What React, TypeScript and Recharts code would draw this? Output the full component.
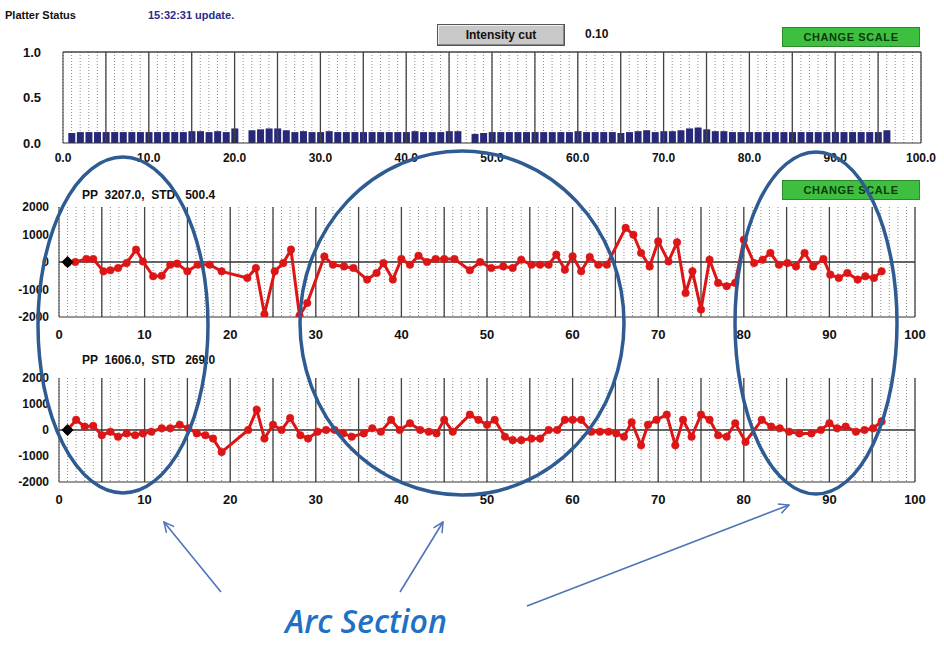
import React from 'react';
import {
  ComposedChart,
  BarChart,
  Bar,
  Line,
  Scatter,
  XAxis,
  YAxis,
  CartesianGrid,
  ReferenceLine,
} from 'recharts';

// ---- data ----
const intensityX = [
  1, 2, 3, 4, 5, 6, 7, 8, 9, 10, 11, 12, 13, 14, 15, 16, 17, 18, 19, 20,
  22, 23, 24, 25, 26, 27, 28, 29, 30, 31, 32, 33, 34, 35, 36, 37, 38, 39, 40, 41, 42, 43, 44, 45, 46,
  48, 49, 50, 51, 52, 53, 54, 55, 56, 57, 58, 59, 60, 61, 62, 63, 64, 65, 66, 67, 68, 69, 70, 71, 72,
  73, 74, 75, 76, 77, 78, 79, 80, 81, 82, 83, 84, 85, 86, 87, 88, 89, 90, 91, 92, 93, 94, 95, 96,
];
const intensityVal = [
  0.11, 0.12, 0.12, 0.12, 0.12, 0.12, 0.12, 0.12, 0.12, 0.12, 0.12, 0.12, 0.12, 0.12, 0.13, 0.13, 0.12, 0.13, 0.12, 0.16,
  0.14, 0.15, 0.16, 0.16, 0.14, 0.12, 0.13, 0.12, 0.12, 0.13, 0.12, 0.12, 0.12, 0.12, 0.12, 0.12, 0.12, 0.12, 0.12, 0.13, 0.12, 0.12, 0.12, 0.13, 0.13,
  0.10, 0.11, 0.12, 0.12, 0.12, 0.12, 0.12, 0.12, 0.12, 0.12, 0.12, 0.12, 0.13, 0.12, 0.12, 0.12, 0.12, 0.11, 0.12, 0.13, 0.14, 0.12, 0.13, 0.13, 0.14,
  0.16, 0.17, 0.15, 0.13, 0.13, 0.12, 0.12, 0.12, 0.12, 0.12, 0.12, 0.12, 0.12, 0.12, 0.12, 0.12, 0.12, 0.12, 0.12, 0.12, 0.12, 0.12, 0.12, 0.14,
];

const upperX = [
  1, 1.9, 3.2, 4, 5.2, 6, 6.9, 7.9, 9, 9.8, 11, 12, 13, 13.8, 15, 16.2, 17.6, 19, 22, 23, 24, 25.2, 26.2, 27.1,
  28.1, 29, 31, 32, 33.3, 34.4, 36, 37.1, 37.9, 39, 40, 41, 42, 43, 44, 45, 46.2, 48, 49.2, 50.5, 51.9, 53,
  54, 55.2, 56.2, 57.2, 58.1, 59.1, 60, 61, 62, 63, 64, 66.2, 67.1, 68, 69, 70, 71.2, 72.2, 73.2, 74, 75,
  76, 77, 78, 79, 80, 81.2, 82.2, 83.1, 84.1, 85.1, 86.1, 87.1, 88.1, 89.3, 90.1, 91.1, 92.1, 93.3, 94.2, 95.2, 96.1,
];
const upperVal = [
  -30, 0, 110, 110, -340, -300, -220, -40, 450, 20, -520, -500, -100, -60, -340, -100, -100, -340, -580, -220, -1900, -340, -40, 450,
  -1950, -1490, 200, -100, -160, -220, -640, -400, -40, -640, 110, -100, 230, 0, 110, 110, 110, -300, 0, -220, -160, -220,
  80, -100, -100, -100, 270, -280, 210, -340, 180, -100, -100, 1240, 990, 330, -160, 750, 20, 715, -1130, -340, -1730,
  80, -760, -880, -760, 810, -40, 80, 330, -100, -40, -160, 330, -160, 110, -460, -580, -400, -640, -520, -580, -340,
];

const lowerX = [
  1, 2, 3, 4, 5, 6, 6.9, 7.9, 8.9, 9.8, 10.8, 12, 13, 14.1, 15.1, 16.1, 17.1, 18, 19, 22.1, 23.1, 24, 25, 26, 27,
  28.2, 29.1, 30.2, 31.2, 32.2, 33.2, 34.2, 35.6, 36.6, 37.6, 38.8, 39.8, 41, 42.2, 43.2, 44.1, 45, 46, 48, 49,
  50, 50.9, 52.1, 53, 54, 55.2, 56.2, 57.2, 58.2, 59.1, 60, 61, 62.2, 63.2, 64.2, 65.1, 66, 66.9, 68, 68.8,
  69.8, 71, 72, 72.9, 73.9, 75, 76, 77, 78, 79, 80.2, 82.1, 83.2, 84.2, 85.3, 86.5, 87.9, 89, 90, 90.9, 91.9,
  93.1, 94.1, 95.1, 96.1,
];
const lowerVal = [
  0, 390, 130, 160, -200, -65, -260, -130, -200, -130, -65, 65, 65, 200, 65, -130, -200, -330, -850, 0, 780, -330, 200, 0, 460,
  -200, -330, -65, 0, 0, -130, -260, -130, 65, -65, 390, 0, 260, 0, -65, -130, 390, -65, 590, 390,
  200, 390, -260, -390, -390, -330, -330, 0, 0, 390, 390, 390, -65, -65, -65, -130, -260, 300, -590, 200,
  390, 590, -590, 390, -260, 590, 390, -200, -260, 260, -460, 390, 130, 65, -65, -130, -130, 0, 260, 65, 130,
  -65, 0, 65, 330,
];

const startPoint = [{ x: 1, y: 0 }];

const unitTicks = Array.from({ length: 101 }, (_, i) => i);
const majorLines = [5, 10, 15, 20, 25, 30, 35, 40, 45, 50, 55, 60, 65, 70, 75, 80, 85, 90, 95, 100];
const intensityTicks = [0, 0.5, 1];
const ppTicks = [-2000, -1000, 0, 1000, 2000];

const intensityData = intensityX.map((x, i) => ({ x, v: intensityVal[i] }));
const upperData = upperX.map((x, i) => ({ x, y: upperVal[i] }));
const lowerData = lowerX.map((x, i) => ({ x, y: lowerVal[i] }));

const FONT = '"Liberation Sans", Arial, sans-serif';
const RED = '#dc1616';
const ELLIPSE = '#2f5b93';

const tickStyle = { fill: '#111', fontSize: 13, fontWeight: 700, fontFamily: FONT };

const Diamond = (props: any) => {
  const { cx, cy } = props;
  return <path d={`M${cx},${cy - 6} L${cx + 6},${cy} L${cx},${cy + 6} L${cx - 6},${cy} Z`} fill="#000" />;
};

function PPChart({ data, top, height, plotH }: { data: any[]; top: number; height: number; plotH: number }) {
  return (
    <div style={{ position: 'absolute', left: 0, top }}>
      <ComposedChart
        width={944}
        height={height}
        data={data}
        margin={{ top: 12, right: 29, left: 0, bottom: 0 }}
      >
        <CartesianGrid horizontal={false} stroke="#8c8c8c" strokeDasharray="1 2" />
        <XAxis
          dataKey="x"
          type="number"
          domain={[0, 100]}
          ticks={unitTicks}
          interval={0}
          tickLine={false}
          tickMargin={7}
          height={height - 12 - plotH}
          stroke="#333"
          tick={tickStyle}
          tickFormatter={(v: number) => (v % 10 === 0 ? String(v) : '')}
        />
        <YAxis
          type="number"
          domain={[-2000, 2000]}
          ticks={ppTicks}
          width={59}
          stroke="#333"
          tickLine={false}
          tickMargin={4}
          allowDataOverflow
          tick={{ ...tickStyle, fontSize: 12 }}
        />
        {majorLines.map((x) => (
          <ReferenceLine key={x} x={x} stroke="#444" strokeWidth={1.3} />
        ))}
        <ReferenceLine y={0} stroke="#333" strokeWidth={1.3} />
        <Line
          dataKey="y"
          stroke={RED}
          strokeWidth={3}
          dot={{ r: 3.8, fill: RED, stroke: RED, strokeWidth: 0.5 }}
          isAnimationActive={false}
        />
        <Scatter data={startPoint} dataKey="y" shape={Diamond} isAnimationActive={false} />
      </ComposedChart>
    </div>
  );
}

const btnGreen: React.CSSProperties = {
  position: 'absolute',
  left: 782,
  width: 136,
  height: 18,
  background: '#3fbf3f',
  border: '1px solid #2b8a2b',
  color: '#0b3a0b',
  fontSize: 11,
  fontWeight: 700,
  lineHeight: '18px',
  textAlign: 'center',
  letterSpacing: 0.6,
};

export default function App() {
  return (
    <div
      style={{
        position: 'absolute',
        left: 0,
        top: 0,
        width: 944,
        height: 646,
        background: '#fff',
        fontFamily: FONT,
        overflow: 'hidden',
      }}
    >
      <div style={{ position: 'absolute', left: 5, top: 9, fontSize: 11, fontWeight: 700, color: '#111' }}>
        Platter Status
      </div>
      <div style={{ position: 'absolute', left: 148, top: 9, fontSize: 11, fontWeight: 700, color: '#2b2b8c' }}>
        15:32:31 update.
      </div>
      <div
        style={{
          position: 'absolute',
          left: 437,
          top: 24,
          width: 126,
          height: 20,
          background: '#c8c8c8',
          border: '1px solid #555',
          boxShadow: 'inset -1px -1px 0 #888, inset 1px 1px 0 #eee',
          fontSize: 12,
          fontWeight: 700,
          lineHeight: '20px',
          textAlign: 'center',
          color: '#111',
        }}
      >
        Intensity cut
      </div>
      <div style={{ position: 'absolute', left: 585, top: 27, fontSize: 12, fontWeight: 700, color: '#111' }}>0.10</div>
      <div style={{ ...btnGreen, top: 27 }}>CHANGE SCALE</div>
      <div style={{ ...btnGreen, top: 180 }}>CHANGE SCALE</div>

      <div style={{ position: 'absolute', left: 0, top: 40 }}>
        <BarChart
          width={944}
          height={130}
          data={intensityData}
          margin={{ top: 12, right: 23, left: 0, bottom: 0 }}
          barSize={7}
        >
          <CartesianGrid horizontal={false} stroke="#8c8c8c" strokeDasharray="1 2" />
          <XAxis
            dataKey="x"
            type="number"
            domain={[0, 100]}
            ticks={unitTicks}
            interval={0}
            tickLine={false}
            tickMargin={4}
            height={27}
            stroke="#333"
            tick={{ ...tickStyle, fontSize: 12 }}
            tickFormatter={(v: number) => (v % 10 === 0 ? v.toFixed(1) : '')}
          />
          <YAxis
            type="number"
            domain={[0, 1]}
            ticks={intensityTicks}
            width={63}
            stroke="#333"
            tickLine={false}
            tickMargin={16}
            tick={{ ...tickStyle, fontSize: 13 }}
            tickFormatter={(v: number) => v.toFixed(1)}
          />
          {majorLines.map((x) => (
            <ReferenceLine key={x} x={x} stroke="#444" strokeWidth={1.3} />
          ))}
          <ReferenceLine y={1} stroke="#444" strokeWidth={1.3} />
          <Bar dataKey="v" fill="#28287a" isAnimationActive={false} />
        </BarChart>
      </div>

      <div style={{ position: 'absolute', left: 82, top: 188, fontSize: 12, fontWeight: 700, whiteSpace: 'pre', color: '#111' }}>
        {'PP  3207.0,  STD   500.4'}
      </div>
      <PPChart data={upperData} top={195} height={150} plotH={110} />

      <div style={{ position: 'absolute', left: 82, top: 353, fontSize: 12, fontWeight: 700, whiteSpace: 'pre', color: '#111' }}>
        {'PP  1606.0,  STD   269.0'}
      </div>
      <PPChart data={lowerData} top={366} height={150} plotH={104} />

      <svg width={944} height={646} style={{ position: 'absolute', left: 0, top: 0, pointerEvents: 'none' }}>
        <defs>
          <marker id="arrowHead" viewBox="0 0 12 12" refX="11" refY="6" markerWidth="12" markerHeight="12" orient="auto" markerUnits="userSpaceOnUse">
            <path d="M1,1 L11,6 L1,11" fill="none" stroke="#4f74b8" strokeWidth={1.5} />
          </marker>
        </defs>
        <ellipse cx={123} cy={325} rx={85} ry={168} fill="none" stroke={ELLIPSE} strokeWidth={3.5} />
        <ellipse cx={462} cy={323} rx={162} ry={172} fill="none" stroke={ELLIPSE} strokeWidth={3.5} />
        <ellipse cx={816} cy={323} rx={81} ry={171} fill="none" stroke={ELLIPSE} strokeWidth={3.5} />
        <line x1={221} y1={592} x2={164} y2={522} stroke="#4f74b8" strokeWidth={1.6} markerEnd="url(#arrowHead)" />
        <line x1={400} y1={592} x2={443} y2={522} stroke="#4f74b8" strokeWidth={1.6} markerEnd="url(#arrowHead)" />
        <line x1={527} y1={606} x2={789} y2={505} stroke="#4f74b8" strokeWidth={1.6} markerEnd="url(#arrowHead)" />
        <text
          x={366}
          y={633}
          textAnchor="middle"
          fontFamily='"Open Sans", "Noto Sans", sans-serif'
          fontStyle="italic"
          fontWeight={600}
          fontSize={32}
          fill="#2170c4"
        >
          Arc Section
        </text>
      </svg>
    </div>
  );
}
